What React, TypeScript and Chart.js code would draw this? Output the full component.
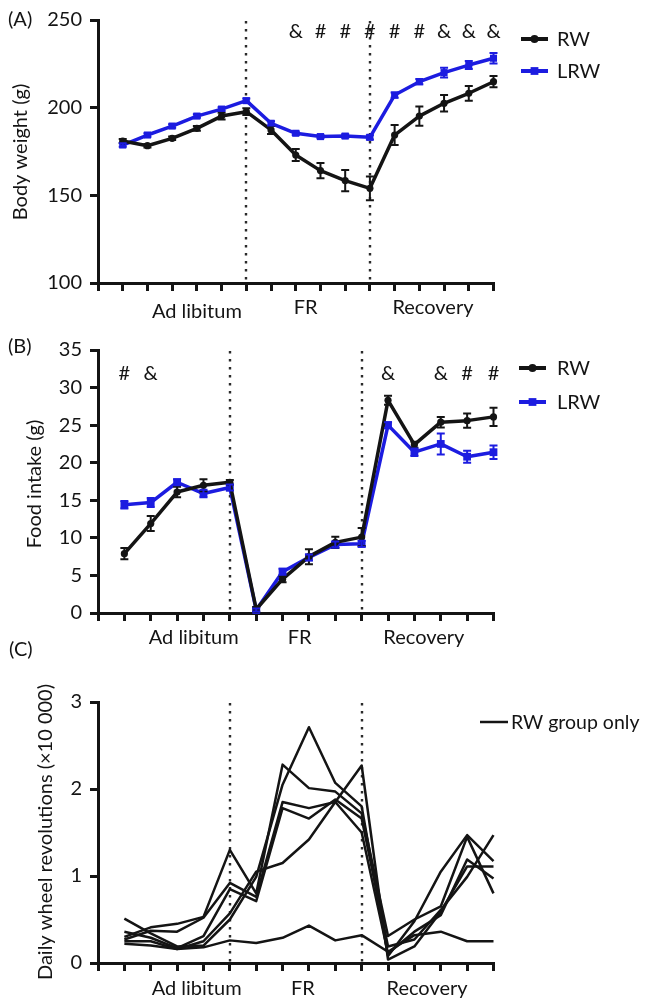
import React, { useEffect, useRef } from 'react';
import { Chart, registerables } from 'chart.js';

Chart.register(...registerables);

const W = 648;
const H = 998;
const FONT = 'Lato, "Open Sans", sans-serif';
const FS = 20;
const INK = '#141414';
const BLUE = '#1c1ce0';

// ---- shared categories ----
const daysA = [1, 2, 3, 4, 5, 6, 7, 8, 9, 10, 11, 12, 13, 14, 15, 16];
const daysBC = [1, 2, 3, 4, 5, 6, 7, 8, 9, 10, 11, 12, 13, 14, 15];
const phaseNames = ['Ad libitum', 'FR', 'Recovery'];
const phaseBreaksA = [6, 11];
const phaseBreaksBC = [5, 10];

// ---- (A) body weight ----
const weightTicks = [100, 150, 200, 250];
const weightRW = [181.0, 178.3, 182.5, 188.2, 195.2, 197.7, 187.3, 173.0, 164.1, 158.4, 154.0, 184.4, 195.2, 202.5, 208.2, 214.8];
const weightRWSem = [1.2, 1.0, 1.0, 1.3, 1.9, 1.9, 2.3, 3.4, 4.4, 6.1, 6.8, 5.7, 5.5, 4.7, 4.2, 3.2];
const weightLRW = [178.7, 184.4, 189.5, 195.2, 199.2, 204.0, 191.1, 185.4, 183.5, 183.8, 183.1, 207.2, 214.8, 220.0, 224.3, 228.2];
const weightLRWSem = [1.0, 1.0, 1.0, 1.0, 1.0, 1.2, 1.2, 1.0, 1.0, 1.0, 1.2, 1.5, 1.5, 2.8, 2.3, 3.0];
const weightSigDays = [8, 9, 10, 11, 12, 13, 14, 15, 16];
const weightSigMarks = ['&', '#', '#', '#', '#', '#', '&', '&', '&'];
const weightSigLevel = 244;

// ---- (B) food intake ----
const foodTicks = [0, 5, 10, 15, 20, 25, 30, 35];
const foodRW = [7.9, 11.9, 16.1, 17.0, 17.4, 0.5, 4.5, 7.5, 9.4, 10.1, 28.3, 22.4, 25.4, 25.6, 26.1];
const foodRWSem = [0.75, 1.0, 0.7, 0.8, 0.3, 0.3, 0.4, 1.0, 0.75, 1.2, 0.6, 0.4, 0.7, 0.95, 1.2];
const foodLRW = [14.4, 14.7, 17.4, 15.9, 16.7, 0.4, 5.5, 7.4, 9.1, 9.2, 25.0, 21.4, 22.5, 20.8, 21.4];
const foodLRWSem = [0.5, 0.6, 0.4, 0.5, 0.4, 0.2, 0.4, 0.4, 0.4, 0.4, 0.4, 0.5, 1.4, 0.8, 0.9];
const foodSigDays = [1, 2, 11, 13, 14, 15];
const foodSigMarks = ['#', '&', '&', '&', '#', '#'];
const foodSigLevel = 32;

// ---- (C) daily wheel revolutions (x10 000), RW group individuals ----
const wheelTicks = [0, 1, 2, 3];
const wheelRat1 = [0.51, 0.34, 0.19, 0.20, 0.50, 0.99, 2.05, 2.71, 2.07, 1.80, 0.08, 0.48, 1.05, 1.47, 1.17];
const wheelRat2 = [0.30, 0.41, 0.45, 0.53, 1.30, 0.80, 2.28, 2.01, 1.97, 1.72, 0.31, 0.50, 0.65, 1.45, 0.80];
const wheelRat3 = [0.27, 0.37, 0.36, 0.52, 0.92, 0.76, 1.85, 1.78, 1.85, 1.50, 0.11, 0.36, 0.55, 1.19, 0.97];
const wheelRat4 = [0.36, 0.29, 0.17, 0.31, 0.85, 0.71, 1.78, 1.66, 1.88, 1.66, 0.19, 0.27, 0.61, 0.99, 1.47];
const wheelRat5 = [0.25, 0.25, 0.16, 0.25, 0.57, 1.05, 1.15, 1.42, 1.85, 2.27, 0.04, 0.19, 0.59, 1.11, 1.11];
const wheelRat6 = [0.22, 0.20, 0.16, 0.18, 0.26, 0.23, 0.29, 0.43, 0.26, 0.32, 0.13, 0.32, 0.36, 0.25, 0.25];

type PointKind = 'circle' | 'rect' | null;
interface Series { label: string; values: number[]; sem?: number[]; color: string; width: number; point: PointKind; radius: number; }
interface LegendItem { text: string; color: string; point: PointKind; radius: number; width: number; y: number; }
interface Panel {
  area: { left: number; top: number; right: number; bottom: number };
  days: number[];
  yTicks: number[];
  yTitle: string; yTitleX: number; yTitleY: number;
  tags: { text: string; x: number; y: number }[];
  breaks: number[];
  phaseAt: number[]; phaseDy: number[];
  series: Series[];
  sig?: { days: number[]; marks: string[]; level: number };
  legend: { x1: number; x2: number; tx: number; fs: number; items: LegendItem[] };
}

const panels: Panel[] = [
  {
    area: { left: 98, top: 20, right: 493.5, bottom: 283 },
    days: daysA, yTicks: weightTicks,
    yTitle: 'Body weight (g)', yTitleX: 27, yTitleY: 152,
    tags: [{ text: '(A)', x: 8, y: 26 }],
    breaks: phaseBreaksA,
    phaseAt: [4.0, 8.4, 13.55], phaseDy: [35, 31, 31],
    series: [
      { label: 'RW', values: weightRW, sem: weightRWSem, color: INK, width: 3.5, point: 'circle', radius: 3.6 },
      { label: 'LRW', values: weightLRW, sem: weightLRWSem, color: BLUE, width: 3.5, point: 'rect', radius: 5 },
    ],
    sig: { days: weightSigDays, marks: weightSigMarks, level: weightSigLevel },
    legend: {
      x1: 521, x2: 548, tx: 557, fs: FS, items: [
        { text: 'RW', color: INK, point: 'circle', radius: 4, width: 4, y: 39 },
        { text: 'LRW', color: BLUE, point: 'rect', radius: 5.5, width: 4, y: 71 },
      ],
    },
  },
  {
    area: { left: 98, top: 350, right: 493.5, bottom: 613 },
    days: daysBC, yTicks: foodTicks,
    yTitle: 'Food intake (g)', yTitleX: 41, yTitleY: 484,
    tags: [{ text: '(B)', x: 8, y: 353 }, { text: '(C)', x: 9, y: 656 }],
    breaks: phaseBreaksBC,
    phaseAt: [3.63, 7.65, 12.36], phaseDy: [31, 31, 31],
    series: [
      { label: 'RW', values: foodRW, sem: foodRWSem, color: INK, width: 3.5, point: 'circle', radius: 3.6 },
      { label: 'LRW', values: foodLRW, sem: foodLRWSem, color: BLUE, width: 3.5, point: 'rect', radius: 5.5 },
    ],
    sig: { days: foodSigDays, marks: foodSigMarks, level: foodSigLevel },
    legend: {
      x1: 519, x2: 546, tx: 557, fs: FS, items: [
        { text: 'RW', color: INK, point: 'circle', radius: 4, width: 4, y: 368 },
        { text: 'LRW', color: BLUE, point: 'rect', radius: 5.5, width: 4, y: 402 },
      ],
    },
  },
  {
    area: { left: 98, top: 702, right: 493.5, bottom: 963 },
    days: daysBC, yTicks: wheelTicks,
    yTitle: 'Daily wheel revolutions (×10 000)', yTitleX: 52, yTitleY: 832,
    tags: [],
    breaks: phaseBreaksBC,
    phaseAt: [3.74, 7.77, 12.48], phaseDy: [32, 32, 32],
    series: [wheelRat1, wheelRat2, wheelRat3, wheelRat4, wheelRat5, wheelRat6].map((v, i) => ({
      label: 'RW ' + (i + 1), values: v, color: INK, width: 2.5, point: null as PointKind, radius: 0,
    })),
    legend: {
      x1: 480, x2: 508, tx: 511, fs: 19.5, items: [
        { text: 'RW group only', color: INK, point: null, radius: 0, width: 2.5, y: 722 },
      ],
    },
  },
];

function drawMarker(ctx: CanvasRenderingContext2D, kind: PointKind, x: number, y: number, r: number, color: string) {
  if (!kind) return;
  ctx.fillStyle = color;
  if (kind === 'circle') {
    ctx.beginPath();
    ctx.arc(x, y, r, 0, Math.PI * 2);
    ctx.fill();
  } else {
    const s = r * Math.SQRT2;
    ctx.fillRect(x - s / 2, y - s / 2, s, s);
  }
}

function decorPlugin(p: Panel) {
  return {
    id: 'decor',
    beforeDatasetsDraw(chart: any) {
      const { ctx, chartArea } = chart;
      const x = chart.scales.x;
      ctx.save();
      ctx.strokeStyle = '#2a2a2a';
      ctx.lineWidth = 2.4;
      ctx.setLineDash([2.4, 5.6]);
      p.breaks.forEach((b) => {
        const px = Math.round(x.getPixelForValue(b));
        ctx.beginPath();
        ctx.moveTo(px, chartArea.top + 1);
        ctx.lineTo(px, chartArea.bottom);
        ctx.stroke();
      });
      ctx.restore();
    },
    afterDatasetsDraw(chart: any) {
      const { ctx } = chart;
      const x = chart.scales.x;
      const y = chart.scales.y;
      ctx.save();
      p.series.forEach((s) => {
        if (!s.sem) return;
        ctx.strokeStyle = s.color;
        ctx.lineWidth = 2;
        s.values.forEach((v, i) => {
          const e = s.sem![i];
          const px = x.getPixelForValue(p.days[i]);
          const y1 = y.getPixelForValue(v + e);
          const y2 = y.getPixelForValue(v - e);
          ctx.beginPath();
          ctx.moveTo(px, y1); ctx.lineTo(px, y2);
          ctx.moveTo(px - 4, y1); ctx.lineTo(px + 4, y1);
          ctx.moveTo(px - 4, y2); ctx.lineTo(px + 4, y2);
          ctx.stroke();
        });
      });
      ctx.restore();
    },
    afterDraw(chart: any) {
      const { ctx, chartArea } = chart;
      const x = chart.scales.x;
      const y = chart.scales.y;
      ctx.save();
      ctx.fillStyle = INK;
      ctx.font = `${FS}px ${FONT}`;
      ctx.textBaseline = 'alphabetic';
      // phase labels
      ctx.textAlign = 'center';
      phaseNames.forEach((n, i) => {
        ctx.fillText(n, x.getPixelForValue(p.phaseAt[i]), chartArea.bottom + p.phaseDy[i]);
      });
      // significance marks
      if (p.sig) {
        const py = y.getPixelForValue(p.sig.level) + 7;
        p.sig.days.forEach((d, i) => {
          ctx.fillText(p.sig!.marks[i], x.getPixelForValue(d), py);
        });
      }
      // panel tags
      ctx.textAlign = 'left';
      p.tags.forEach((t) => ctx.fillText(t.text, t.x, t.y));
      // y title
      ctx.save();
      ctx.translate(p.yTitleX, p.yTitleY);
      ctx.rotate(-Math.PI / 2);
      ctx.textAlign = 'center';
      ctx.fillText(p.yTitle, 0, 0);
      ctx.restore();
      // legend
      const lg = p.legend;
      lg.items.forEach((it) => {
        ctx.strokeStyle = it.color;
        ctx.lineWidth = it.width;
        ctx.setLineDash([]);
        ctx.beginPath();
        ctx.moveTo(lg.x1, it.y);
        ctx.lineTo(lg.x2, it.y);
        ctx.stroke();
        drawMarker(ctx, it.point, (lg.x1 + lg.x2) / 2, it.y, it.radius, it.color);
        ctx.fillStyle = INK;
        ctx.font = `${lg.fs}px ${FONT}`;
        ctx.textAlign = 'left';
        ctx.fillText(it.text, lg.tx, it.y + 7);
      });
      ctx.restore();
    },
  };
}

function buildConfig(p: Panel): any {
  const xTicks = [0, ...p.days];
  const axisGrid = { display: true, drawOnChartArea: false, drawTicks: true, tickLength: 8, lineWidth: 3, color: INK };
  return {
    type: 'line',
    data: {
      datasets: p.series.map((s) => ({
        label: s.label,
        data: s.values.map((v, i) => ({ x: p.days[i], y: v })),
        borderColor: s.color,
        backgroundColor: s.color,
        borderWidth: s.width,
        pointStyle: s.point || 'circle',
        pointRadius: s.point ? s.radius : 0,
        pointBorderWidth: 0,
        pointHoverRadius: 0,
        tension: 0,
        clip: false,
        borderJoinStyle: 'round',
      })),
    },
    options: {
      responsive: false,
      animation: false,
      devicePixelRatio: 1,
      events: [],
      layout: {
        autoPadding: false,
        padding: { left: 0, top: p.area.top, right: W - p.area.right, bottom: H - p.area.bottom - 10 },
      },
      plugins: { legend: { display: false }, tooltip: { enabled: false }, title: { display: false } },
      scales: {
        x: {
          type: 'linear',
          min: xTicks[0],
          max: xTicks[xTicks.length - 1],
          afterFit: (s: any) => { s.height = 10; },
          afterBuildTicks: (s: any) => { s.ticks = xTicks.map((v) => ({ value: v })); },
          border: { display: true, width: 3, color: INK },
          grid: axisGrid,
          ticks: { display: false },
        },
        y: {
          type: 'linear',
          min: p.yTicks[0],
          max: p.yTicks[p.yTicks.length - 1],
          afterFit: (s: any) => { s.width = p.area.left; },
          afterBuildTicks: (s: any) => { s.ticks = p.yTicks.map((v) => ({ value: v })); },
          border: { display: true, width: 3, color: INK },
          grid: axisGrid,
          ticks: { color: INK, padding: 8, font: { family: FONT, size: FS } },
        },
      },
    },
    plugins: [decorPlugin(p)],
  };
}

function PanelChart({ panel }: { panel: Panel }) {
  const ref = useRef<HTMLCanvasElement>(null);
  useEffect(() => {
    const chart = new Chart(ref.current as HTMLCanvasElement, buildConfig(panel));
    return () => chart.destroy();
  }, [panel]);
  return (
    <canvas
      ref={ref}
      width={W}
      height={H}
      style={{ position: 'absolute', left: 0, top: 0, width: W, height: H, display: 'block' }}
    />
  );
}

export default function App() {
  return (
    <div style={{ position: 'absolute', left: 0, top: 0, width: W, height: H, background: '#fff', overflow: 'hidden' }}>
      {panels.map((p, i) => (
        <PanelChart key={i} panel={p} />
      ))}
    </div>
  );
}
